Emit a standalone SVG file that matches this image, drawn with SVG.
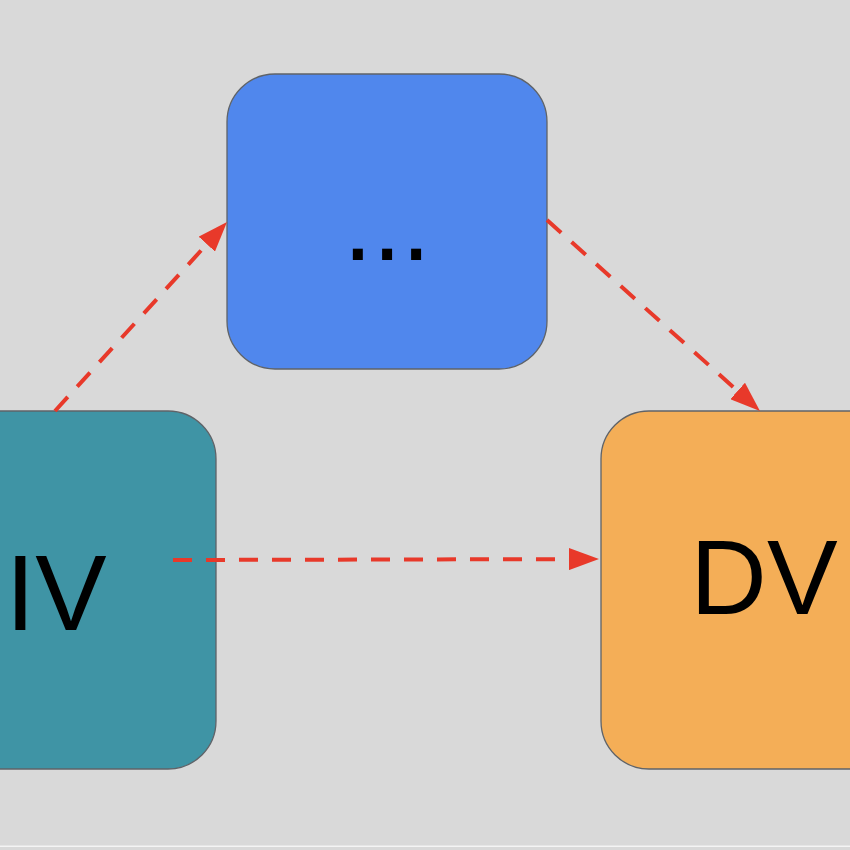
<svg xmlns="http://www.w3.org/2000/svg" width="850" height="850" viewBox="0 0 850 850">
  <style>
    .box { stroke: #5f6368; stroke-width: 1.3; }
    .lbl { font-family: "Liberation Sans", Arial, sans-serif; fill: #000; text-anchor: middle; }
    .conn { fill: none; stroke: #e8392a; stroke-width: 4; stroke-dasharray: 19 14; }
  </style>
  <defs>
    <marker id="ah" markerUnits="userSpaceOnUse" markerWidth="30" markerHeight="22" refX="4" refY="11" orient="auto" viewBox="0 0 30 22">
      <path d="M0,0 L30,11 L0,22 Z" fill="#e8392a"/>
    </marker>
  </defs>
  <rect x="0" y="0" width="850" height="850" fill="#d9d9d9"/>
  <rect x="0" y="845.5" width="850" height="1.5" fill="#f4f4f4"/>

  <g id="node-mediator">
    <rect class="box" x="227" y="74" width="320" height="295" rx="48" ry="48" fill="#5087ed"/>
    <text class="lbl" x="387" y="260" font-size="105">...</text>
  </g>
  <g id="node-iv">
    <rect class="box" x="-106" y="411" width="322" height="358" rx="48" ry="48" fill="#3f94a5"/>
    <text class="lbl" x="56" y="630" font-size="107">IV</text>
  </g>
  <g id="node-dv">
    <rect class="box" x="601" y="411" width="330" height="358" rx="48" ry="48" fill="#f4ae57"/>
    <text class="lbl" x="764" y="614" font-size="106">DV</text>
  </g>

  <g id="connectors">
    <line class="conn" x1="55" y1="411" x2="209.5" y2="241.2" marker-end="url(#ah)"/>
    <line class="conn" x1="547" y1="220" x2="740.6" y2="393.6" marker-end="url(#ah)"/>
    <line class="conn" x1="173" y1="560" x2="573" y2="559.1" marker-end="url(#ah)"/>
  </g>
</svg>
